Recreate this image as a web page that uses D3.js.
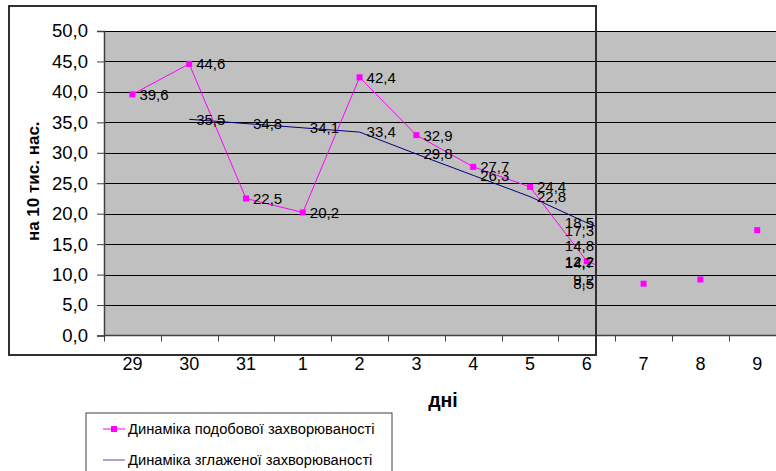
<!DOCTYPE html>
<html>
<head>
<meta charset="utf-8">
<script src="https://cdn.jsdelivr.net/npm/d3@7"></script>
<style>
  body { margin: 0; background: #fff; }
  svg { display: block; font-family: "Liberation Sans", Arial, sans-serif; }
</style>
</head>
<body>
<svg id="chart"></svg>
<script>
// days on the x axis
const days = ["29", "30", "31", "1", "2", "3", "4", "5", "6", "7", "8", "9"];
// daily incidence per 10 thousand people
const dailyValues = [39.6, 44.6, 22.5, 20.2, 42.4, 32.9, 27.7, 24.4, 12.2, 8.5, 9.2, 17.3];
// smoothed incidence
const smoothValues = [null, 35.5, 34.8, 34.1, 33.4, 29.8, 26.3, 22.8, 18.5, 14.8, 14.7, null];
const yTicks = [0, 5, 10, 15, 20, 25, 30, 35, 40, 45, 50];
const seriesNames = ["Динаміка подобової захворюваності", "Динаміка зглаженої захворюваності"];

const W = 776, H = 471;
const frame = {left: 9, top: 6, right: 596, bottom: 355};
const plot = {left: 104, top: 31, bottom: 335.5};
const bandW = 56.8;
const FONT = "Liberation Sans, Arial, sans-serif";

const svg = d3.select("#chart").attr("width", W).attr("height", H);

const locale = d3.formatLocale({decimal: ",", thousands: " ", grouping: [3], currency: ["", ""]});
const fmt = locale.format(".1f");

const x = d3.scaleBand()
    .domain(days)
    .range([plot.left, plot.left + bandW * days.length])
    .paddingInner(0).paddingOuter(0);
const y = d3.scaleLinear().domain([0, 50]).range([plot.bottom, plot.top]);
const cx = d => x(d) + x.bandwidth() / 2;

// outer chart box (white)
svg.append("rect")
    .attr("x", frame.left).attr("y", frame.top)
    .attr("width", frame.right - frame.left).attr("height", frame.bottom - frame.top)
    .attr("fill", "#fff");

// plot area
svg.append("rect")
    .attr("x", plot.left).attr("y", plot.top)
    .attr("width", W - plot.left).attr("height", plot.bottom - plot.top)
    .attr("fill", "#c0c0c0");

// gridlines
svg.append("g")
    .selectAll("line")
    .data(yTicks.filter(d => d > 0))
    .join("line")
    .attr("x1", plot.left).attr("x2", W)
    .attr("y1", d => Math.round(y(d)) + 0.5).attr("y2", d => Math.round(y(d)) + 0.5)
    .attr("stroke", "#000").attr("stroke-width", 1);

// y axis
const axisY = svg.append("g")
    .attr("transform", `translate(${plot.left},0)`)
    .call(d3.axisLeft(y).tickValues(yTicks).tickSize(7).tickPadding(9).tickFormat(fmt));
axisY.select(".domain").attr("stroke", "#404040").attr("stroke-width", 1.5);
axisY.selectAll(".tick line").attr("stroke", "#404040");
axisY.selectAll("text").attr("font-size", 18.5).attr("fill", "#000").attr("font-family", FONT);

// x axis
const axisX = svg.append("g")
    .attr("transform", `translate(0,${plot.bottom})`)
    .call(d3.axisBottom(x).tickSize(0).tickPadding(22));
axisX.select(".domain").remove();
axisX.selectAll("text").attr("font-size", 18).attr("fill", "#000").attr("font-family", FONT);
svg.append("line")
    .attr("x1", plot.left).attr("x2", W)
    .attr("y1", plot.bottom).attr("y2", plot.bottom)
    .attr("stroke", "#404040").attr("stroke-width", 1.5);
svg.append("g")
    .selectAll("line")
    .data(days.concat(["end"]))
    .join("line")
    .attr("x1", (d, i) => Math.round(plot.left + i * x.bandwidth()) + 0.5)
    .attr("x2", (d, i) => Math.round(plot.left + i * x.bandwidth()) + 0.5)
    .attr("y1", plot.bottom).attr("y2", plot.bottom + 6)
    .attr("stroke", "#404040");

// axis titles
svg.append("text")
    .attr("transform", `translate(39,${(plot.top + plot.bottom) / 2 - 2}) rotate(-90)`)
    .attr("text-anchor", "middle")
    .attr("font-size", 17).attr("font-weight", "bold")
    .text("на 10 тис. нас.");
svg.append("text")
    .attr("x", 443).attr("y", 407)
    .attr("text-anchor", "middle")
    .attr("font-size", 19.5).attr("font-weight", "bold")
    .text("дні");

// lines, clipped to the chart box
svg.append("clipPath").attr("id", "clip")
    .append("rect")
    .attr("x", plot.left).attr("y", 0)
    .attr("width", frame.right - plot.left).attr("height", H);

const lineGen = d3.line()
    .defined(d => d.v != null)
    .x(d => cx(d.day))
    .y(d => y(d.v));

const daily = days.map((d, i) => ({day: d, v: dailyValues[i]}));
const smooth = days.map((d, i) => ({day: d, v: smoothValues[i]}));

svg.append("path")
    .datum(smooth)
    .attr("clip-path", "url(#clip)")
    .attr("fill", "none").attr("stroke", "#000080").attr("stroke-width", 1)
    .attr("d", lineGen);

svg.append("path")
    .datum(daily)
    .attr("clip-path", "url(#clip)")
    .attr("fill", "none").attr("stroke", "#ff00ff").attr("stroke-width", 1)
    .attr("d", lineGen);

svg.append("g")
    .selectAll("rect")
    .data(daily)
    .join("rect")
    .attr("x", d => cx(d.day) - 3).attr("y", d => y(d.v) - 3)
    .attr("width", 6).attr("height", 6)
    .attr("fill", "#ff00ff");

// data labels (kept inside the chart box)
const labelNudge = {"smooth-10": 17};
function addLabels(data, key) {
    svg.append("g")
        .selectAll("text")
        .data(data.map((d, i) => ({...d, i})).filter(d => d.v != null))
        .join("text")
        .attr("font-size", 15)
        .attr("dy", "0.36em")
        .attr("y", d => y(d.v) + (labelNudge[key + "-" + d.i] || 0))
        .text(d => fmt(d.v))
        .each(function (d) {
            const el = d3.select(this);
            const px = cx(d.day) + 7;
            const w = this.getComputedTextLength();
            if (px + w > frame.right - 2) {
                el.attr("x", frame.right - 2).attr("text-anchor", "end");
            } else {
                el.attr("x", px);
            }
        });
}
addLabels(smooth, "smooth");
addLabels(daily, "daily");

// chart box border on top
svg.append("rect")
    .attr("x", frame.left).attr("y", frame.top)
    .attr("width", frame.right - frame.left).attr("height", frame.bottom - frame.top)
    .attr("fill", "none").attr("stroke", "#303030").attr("stroke-width", 2);

// legend
const legend = svg.append("g");
legend.append("rect")
    .attr("x", 86).attr("y", 413)
    .attr("width", 306).attr("height", 70)
    .attr("fill", "#fff").attr("stroke", "#404040").attr("stroke-width", 1);
const legendColors = ["#ff00ff", "#5050b0"];
const items = legend.selectAll("g.item")
    .data(seriesNames)
    .join("g")
    .attr("class", "item")
    .attr("transform", (d, i) => `translate(103,${429 + i * 31})`);
items.append("line")
    .attr("x1", 0).attr("x2", 22).attr("y1", 0).attr("y2", 0)
    .attr("stroke", (d, i) => legendColors[i]).attr("stroke-width", 1);
items.filter((d, i) => i === 0).append("rect")
    .attr("x", 8).attr("y", -3).attr("width", 6).attr("height", 6)
    .attr("fill", "#ff00ff");
items.append("text")
    .attr("x", 25).attr("dy", "0.36em")
    .attr("font-size", 14.7)
    .text(d => d);
</script>
</body>
</html>
